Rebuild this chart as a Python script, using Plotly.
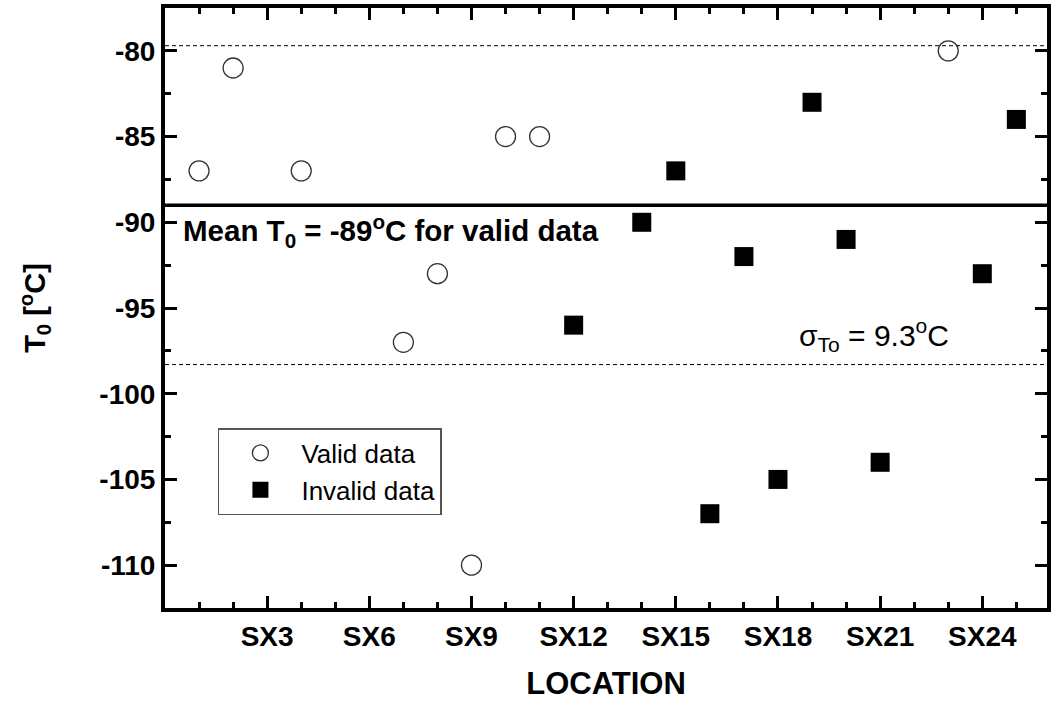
import plotly.graph_objects as go

# Sample locations (SX number) and fracture-toughness reference temperatures T0 [°C]
valid_loc = [1, 2, 4, 7, 8, 9, 10, 11, 23]
valid_t0 = [-87, -81, -87, -97, -93, -110, -85, -85, -80]

invalid_loc = [12, 14, 15, 16, 17, 18, 19, 20, 21, 24, 25]
invalid_t0 = [-96, -90, -87, -107, -92, -105, -83, -91, -104, -93, -84]

x_tick_locs = [3, 6, 9, 12, 15, 18, 21, 24]
x_tick_labels = ["SX3", "SX6", "SX9", "SX12", "SX15", "SX18", "SX21", "SX24"]

y_tick_vals = [-110, -105, -100, -95, -90, -85, -80]
y_tick_labels = ["-110", "-105", "-100", "-95", "-90", "-85", "-80"]

mean_t0 = -89.0
sigma_t0 = 9.3

FONT = "Arial, Liberation Sans, sans-serif"

fig = go.Figure()

fig.add_trace(go.Scatter(
    x=valid_loc, y=valid_t0, mode="markers", name="Valid data",
    marker=dict(symbol="circle-open", size=20, color="#333333",
                line=dict(width=1.3, color="#333333")),
))
fig.add_trace(go.Scatter(
    x=invalid_loc, y=invalid_t0, mode="markers", name="Invalid data",
    marker=dict(symbol="square", size=19, color="black",
                line=dict(width=0)),
))

# mean line and +/- one standard deviation limits
fig.add_shape(type="line", xref="paper", yref="y", x0=0, x1=1,
              y0=mean_t0, y1=mean_t0, line=dict(color="black", width=3.5))
for yv in (mean_t0 + sigma_t0, mean_t0 - sigma_t0):
    fig.add_shape(type="line", xref="paper", yref="y", x0=0, x1=1,
                  y0=yv, y1=yv, line=dict(color="black", width=1, dash="4px,3px"))

fig.add_annotation(
    xref="paper", yref="y", x=0.018, y=-90.5, xanchor="left", yanchor="middle",
    text="<b>Mean T<sub>0</sub> = -89<sup>o</sup>C for valid data</b>",
    showarrow=False, font=dict(family=FONT, size=29.5, color="black"),
)
fig.add_annotation(
    xref="paper", yref="y", x=0.716, y=-96.6, xanchor="left", yanchor="middle",
    text="σ<sub>To</sub> = 9.3<sup>o</sup>C",
    showarrow=False, font=dict(family=FONT, size=30, color="black"),
)

axis_common = dict(
    showline=True, linecolor="black", linewidth=4, mirror="allticks",
    ticks="inside", tickcolor="black", tickwidth=3, ticklen=12,
    showgrid=False, zeroline=False, automargin=False,
    tickfont=dict(family=FONT, size=28, color="black", weight="bold"),
)

fig.update_xaxes(
    **axis_common,
    range=[0, 25.9], tickmode="array", tickvals=x_tick_locs, ticktext=x_tick_labels,
    minor=dict(tickmode="linear", tick0=0, dtick=1, ticks="inside",
               ticklen=6, tickwidth=3, tickcolor="black", showgrid=False),
    title=dict(text="<b>LOCATION</b>", font=dict(family=FONT, size=31, color="black"),
               standoff=26),
)
fig.update_yaxes(
    **axis_common,
    range=[-112.5, -77.5], tickmode="array", tickvals=y_tick_vals, ticktext=y_tick_labels,
    minor=dict(tickmode="linear", tick0=-110, dtick=2.5, ticks="inside",
               ticklen=6, tickwidth=3, tickcolor="black", showgrid=False),
    title=dict(text="<b>T<sub>0</sub> [<sup>o</sup>C]</b>",
               font=dict(family=FONT, size=29, color="black"), standoff=46),
)

fig.update_layout(
    width=1056, height=701,
    margin=dict(l=165, r=9, t=8, b=93, autoexpand=False),
    plot_bgcolor="white", paper_bgcolor="white",
    font=dict(family=FONT, color="black"),
    legend=dict(
        x=0.060, y=0.30, xanchor="left", yanchor="top",
        bgcolor="white", bordercolor="#555555", borderwidth=1.5,
        font=dict(family=FONT, size=26, color="black"),
        itemwidth=72, tracegroupgap=0,
    ),
    showlegend=True,
)

fig.write_html("out.html")
